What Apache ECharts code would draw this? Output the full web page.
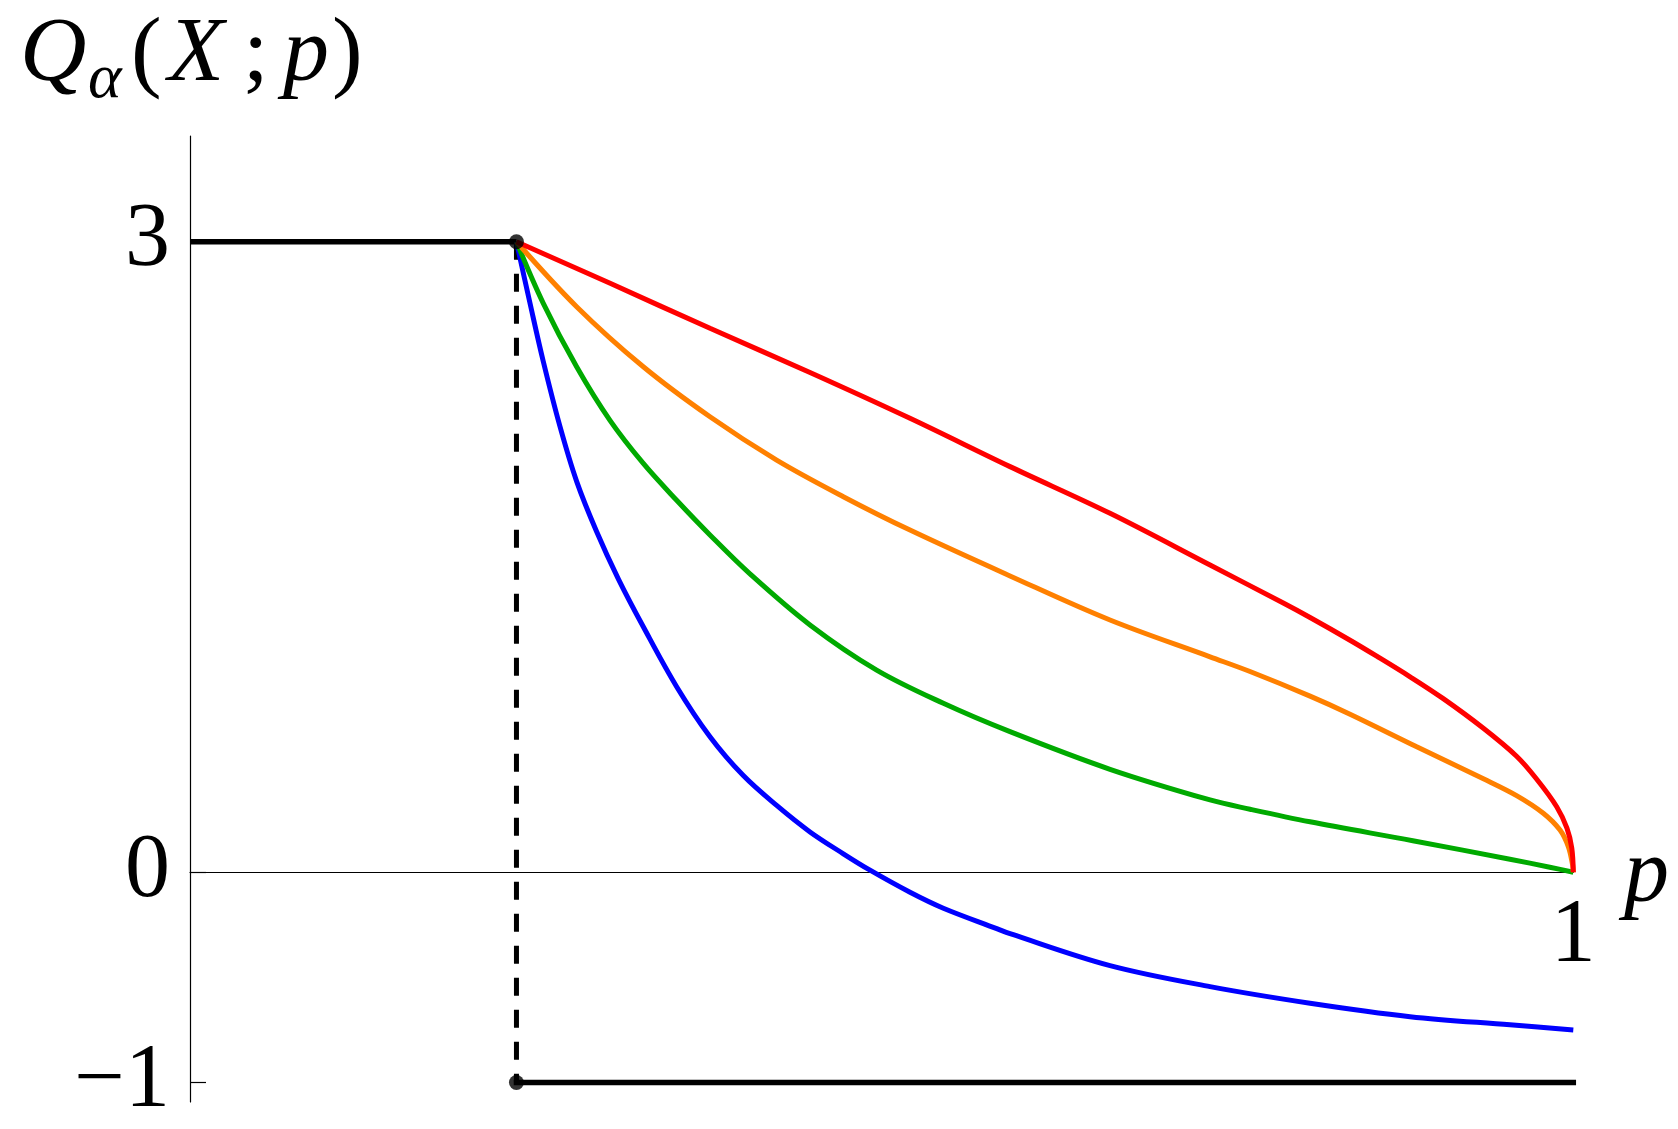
<!DOCTYPE html>
<html>
<head>
<meta charset="utf-8">
<script src="https://cdn.jsdelivr.net/npm/echarts@6/dist/echarts.min.js"></script>
<style>
html,body{margin:0;padding:0;background:#fff;}
#chart{width:1678px;height:1129px;}
</style>
</head>
<body>
<div id="chart"></div>
<script>
// ---- data ----
var pJump = 0.236;
var highValue = 3;
var lowValue = -1;
var yTicks = [-1, 0, 3];
var yTickLabels = ['\u22121', '0', '3'];
var xTicks = [1];
var xTickLabels = ['1'];

var redCurve = [[0.236,3],[0.3037,2.802],[0.3759,2.588],[0.4482,2.378],[0.5205,2.160],[0.5928,1.930],[0.6651,1.708],[0.7374,1.462],[0.790,1.282],[0.8097,1.212],[0.8386,1.104],[0.8579,1.028],[0.882,0.930],[0.906,0.826],[0.935,0.685],[0.959,0.552],[0.9733,0.445],[0.988,0.312],[0.9954,0.210],[0.9989,0.115],[1,0]];
var orangeCurve = [[0.236,3],[0.2795,2.691],[0.3277,2.405],[0.3759,2.167],[0.4241,1.961],[0.4723,1.787],[0.5205,1.628],[0.5928,1.410],[0.6651,1.200],[0.7374,1.025],[0.7663,0.955],[0.8097,0.838],[0.8386,0.752],[0.8868,0.597],[0.935,0.445],[0.959,0.365],[0.9783,0.281],[0.9904,0.201],[0.9964,0.122],[0.9995,0.035],[1,0]];
var greenCurve = [[0.236,3],[0.2554,2.707],[0.2795,2.405],[0.3036,2.150],[0.3277,1.945],[0.3518,1.770],[0.3759,1.605],[0.4048,1.420],[0.4482,1.177],[0.4964,0.962],[0.5446,0.804],[0.5928,0.669],[0.6651,0.490],[0.7374,0.344],[0.7663,0.300],[0.8097,0.240],[0.884,0.150],[0.9542,0.062],[0.983,0.024],[1,0]];
var blueCurve = [[0.236,3],[0.2458,2.707],[0.2554,2.430],[0.2675,2.120],[0.2795,1.860],[0.294,1.620],[0.3097,1.395],[0.3277,1.168],[0.3518,0.883],[0.3759,0.645],[0.4,0.460],[0.4241,0.318],[0.4482,0.192],[0.4723,0.088],[0.4916,0.010],[0.5205,-0.095],[0.5446,-0.171],[0.5832,-0.268],[0.5928,-0.292],[0.6651,-0.444],[0.7374,-0.544],[0.8097,-0.623],[0.882,-0.687],[0.9542,-0.726],[1,-0.750]];

var topLine = [[0, highValue], [pJump, highValue]];
var bottomLine = [[pJump, lowValue], [1, lowValue]];
var jumpLine = [[pJump, highValue], [pJump, lowValue]];
var jumpDots = [[pJump, highValue], [pJump, lowValue]];

// ---- chart ----
var serif = 'Liberation Serif';
var chart = echarts.init(document.getElementById('chart'), null, {renderer: 'canvas'});

function curve(name, data, color, w) {
  return {
    name: name, type: 'line', data: data, showSymbol: false, symbol: 'none',
    clip: false, smooth: 0.35, animation: false,
    lineStyle: {color: color, width: w}
  };
}

var xTickLabelData = xTicks.map(function (v, i) { return {value: [v, 0], name: xTickLabels[i]}; });

var option = {
  backgroundColor: '#ffffff',
  animation: false,
  grid: {left: 190, right: 104.7, top: 136, bottom: 27, containLabel: false, outerBoundsMode: 'none'},
  xAxis: {
    type: 'value', min: 0, max: 1,
    axisLine: {show: true, onZero: true, lineStyle: {color: '#000', width: 1.2}},
    axisTick: {show: true, inside: true, length: 19, customValues: xTicks, lineStyle: {color: '#000', width: 1.2}},
    axisLabel: {show: false},
    splitLine: {show: false}
  },
  yAxis: {
    type: 'value', min: -1.093, max: 3.503,
    axisLine: {show: true, onZero: true, lineStyle: {color: '#000', width: 1.2}},
    axisTick: {show: true, inside: true, length: 16, customValues: yTicks, lineStyle: {color: '#000', width: 1.2}},
    axisLabel: {show: true, customValues: yTicks, margin: 20, fontFamily: serif, fontSize: 90, color: '#000',
      formatter: function (v) { for (var i = 0; i < yTicks.length; i++) { if (Math.abs(yTicks[i] - v) < 1e-9) return yTickLabels[i]; } return ''; }},
    splitLine: {show: false}
  },
  series: [
    {type: 'line', data: jumpLine, showSymbol: false, symbol: 'none', clip: false,
      lineStyle: {color: '#000', width: 5, type: [18, 14]}},
    {type: 'line', data: topLine, showSymbol: false, symbol: 'none', clip: false,
      lineStyle: {color: '#000', width: 5.5}},
    {type: 'line', data: bottomLine, showSymbol: false, symbol: 'none', clip: false,
      lineStyle: {color: '#000', width: 5.5, cap: 'square'}},
    curve('blue', blueCurve, '#0000ff', 5),
    curve('green', greenCurve, '#00aa00', 5),
    curve('orange', orangeCurve, '#ff8000', 5),
    curve('red', redCurve, '#ff0000', 5),
    {type: 'scatter', data: jumpDots, symbol: 'circle', symbolSize: 15, clip: false,
      itemStyle: {color: '#000'}, z: 5},
    {type: 'scatter', data: xTickLabelData, symbol: 'circle', symbolSize: 1, clip: false, silent: true,
      itemStyle: {color: '#ffffff', opacity: 0},
      label: {show: true, position: 'bottom', distance: 20, formatter: '{b}', opacity: 1,
        fontFamily: serif, fontSize: 90, color: '#000000'}}
  ],
  graphic: [
    {type: 'text', left: 20, top: 10, style: {text: 'Q', font: 'italic 92px "Liberation Serif"', fill: '#000'}},
    {type: 'text', left: 88, top: 48, style: {text: '\u03b1', font: 'italic 64px "Liberation Serif"', fill: '#000'}},
    {type: 'text', left: 131, top: 10, style: {text: '(', font: '92px "Liberation Serif"', fill: '#000'}},
    {type: 'text', left: 168, top: 10, style: {text: 'X', font: 'italic 92px "Liberation Serif"', fill: '#000'}},
    {type: 'text', left: 243, top: 10, style: {text: ';', font: '92px "Liberation Serif"', fill: '#000'}},
    {type: 'text', left: 283, top: 10, style: {text: 'p', font: 'italic 92px "Liberation Serif"', fill: '#000'}},
    {type: 'text', left: 332, top: 10, style: {text: ')', font: '92px "Liberation Serif"', fill: '#000'}},
    {type: 'text', left: 1624, top: 832, style: {text: 'p', font: 'italic 90px "Liberation Serif"', fill: '#000'}}
  ]
};
chart.setOption(option);
</script>
</body>
</html>
